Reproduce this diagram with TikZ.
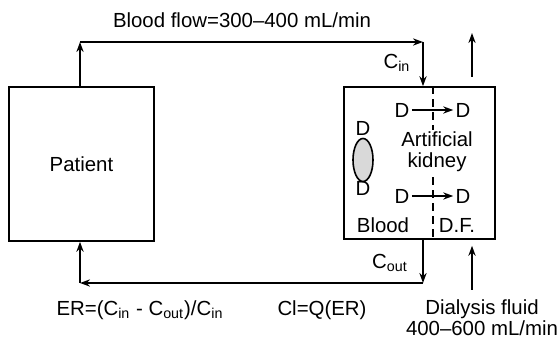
\documentclass[tikz,border=0pt]{standalone}
\usepackage{fontspec}
\setmainfont{Liberation Sans}
\usepackage{tikz}
\usetikzlibrary{arrows.meta,positioning,shapes.geometric}
\tikzset{box/.style={draw,line width=0.8pt,inner sep=0pt,font=\fontsize{10.2}{10.5}\selectfont},arr/.style={-{Stealth[length=5pt,width=3.6pt]},line width=0.8pt},lbl/.style={font=\fontsize{10.2}{10.5}\selectfont,inner sep=1pt},memb/.style={line width=0.8pt,dash pattern=on 4pt off 2.5pt}}
\begin{document}
\begin{tikzpicture}[x=0.5pt,y=-0.5pt]
\useasboundingbox (0,0) rectangle (557,340);
\node[box,minimum width=72.5pt,minimum height=77pt] (patient) at (81.5,164) {Patient};
\node[box,minimum width=75.5pt,minimum height=76pt] (kidney) at (419.5,163) {};
\coordinate (tl) at (80,42);
\coordinate (tr) at (423,42);
\coordinate (bl) at (80,283);
\coordinate (br) at (423,283);
\draw[arr] (tl |- patient.north)--(tl);
\draw[arr] (tl)--(tr);
\draw[arr] (tr)--(tr |- kidney.north);
\draw[arr] (br |- kidney.south)--(br);
\draw[arr] (br)--(bl);
\draw[arr] (bl)--(bl |- patient.south);
\node[lbl] (flow) at (242,20) {Blood flow=300–400 mL/min};
\node[lbl] (cin) at (397,63) {C\textsubscript{in}};
\node[lbl] (cout) at (390,263) {C\textsubscript{out}};
% dialysis fluid in and out
\coordinate (dfout) at (472,77);
\coordinate (dfend) at (472,33);
\coordinate (dfin) at (472,290);
\draw[arr] (dfout)--(dfend);
\draw[arr] (dfin)--([yshift=-3pt]dfin |- kidney.south);
% membrane
\coordinate (mem) at (433,163);
\draw[memb] (mem |- kidney.north)--(mem |- kidney.south);
\node[lbl] (d1) at (402,110) {D};
\node[lbl] (d2) at (463,110) {D};
\node[lbl] (d3) at (402,196) {D};
\node[lbl] (d4) at (463,196) {D};
\draw[arr] (d1)--(d2);
\draw[arr] (d3)--(d4);
\node[lbl] (dtop) at (363,128) {D};
\node[draw,ellipse,fill=gray!30,line width=0.8pt,minimum width=10pt,minimum height=21.5pt,inner sep=0pt] (drop) at (363,160) {};
\node[lbl] (dbot) at (363,188) {D};
\node[lbl,align=center,fill=white] (ak) at (437,152) {Artificial\\kidney};
\node[lbl] (blood) at (383,225) {Blood};
\node[lbl] (df) at (457,225) {D.F.};
\node[lbl] (er) at (140,310) {ER=(C\textsubscript{in} - C\textsubscript{out})/C\textsubscript{in}};
\node[lbl] (cl) at (322,310) {Cl=Q(ER)};
\node[lbl,align=center,font=\fontsize{10.2}{8.5}\selectfont] (dfl) at (482,318) {Dialysis fluid\\400–600 mL/min};
\end{tikzpicture}
\end{document}
